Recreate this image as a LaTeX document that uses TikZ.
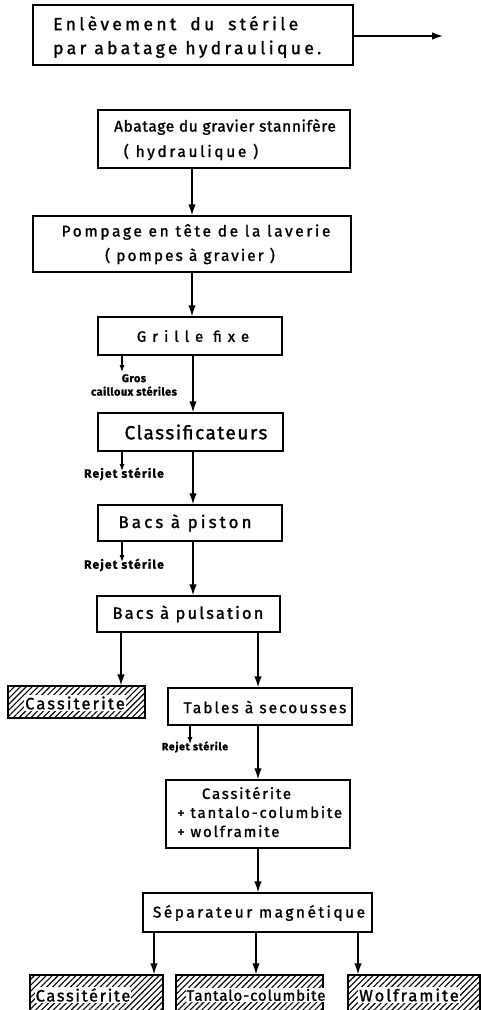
\documentclass[tikz,border=0pt]{standalone}
\usepackage{fontspec}
\setmainfont{Fira Sans}[FakeBold=1.3]
\usetikzlibrary{arrows.meta,patterns.meta}
\newcommand{\fs}[2]{\fontsize{#1}{#2}\selectfont}
\newcommand{\ls}[1]{\addfontfeature{LetterSpace=#1}}
\begin{document}
\begin{tikzpicture}[x=1pt,y=-1pt,
  box/.style={draw,line width=1.4pt,rectangle,inner sep=0pt},
  ore/.style={box,pattern={Lines[angle=45,distance=4.2pt,line width=1.1pt]}},
  txt/.style={inner sep=0pt},
  arr/.style={line width=1.4pt,-{Latex[length=11pt,width=7.5pt]}},
  sarr/.style={line width=1.1pt,-{Latex[length=7pt,width=5pt]}},
  lbl/.style={inner sep=0pt,align=center},
  oretxt/.style={fill=white,inner xsep=0.8pt,inner ysep=1.5pt}]

\useasboundingbox (0,0) rectangle (481,1010);

% boxes of the flow sheet
\node[box,minimum width=320pt,minimum height=60pt] (b1) at (193,35) {};
\node[txt,anchor=west,align=left,font=\fs{17.5}{24}\ls{19}] (t1) at (53,37)
  {Enlèvement\hspace{0.8em}du\hspace{0.8em}stérile\\par abatage hydraulique.};
\coordinate (out1) at (443,36);

\node[box,minimum width=252pt,minimum height=58pt] (b2) at (224,139) {};
\node[txt,font=\fs{15.5}{16}\ls{4}] (t2a) at (225,127) {Abatage du gravier stannifère};
\node[txt,font=\fs{15.5}{16}\ls{17}] (t2b) at (191,152) {( hydraulique )};

\node[box,minimum width=318pt,minimum height=56pt] (b3) at (192,244) {};
\node[txt,font=\fs{15.5}{16}\ls{17}] (t3a) at (196,232) {Pompage en tête de la laverie};
\node[txt,font=\fs{15.5}{16}\ls{13}] (t3b) at (190,256) {( pompes à gravier )};

\node[box,minimum width=184pt,minimum height=38pt] (b4) at (190,336) {};
\node[txt,font=\fs{15}{17}\ls{40}] (t4) at (193,336) {Grille fixe};
\node[box,minimum width=185pt,minimum height=38pt] (b5) at (190.5,432) {};
\node[txt,font=\fs{19}{20}\ls{8}] (t5) at (196,432) {Classificateurs};
\node[box,minimum width=184pt,minimum height=36pt] (b6) at (190,523) {};
\node[txt,font=\fs{17}{19}\ls{18}] (t6) at (185,523) {Bacs à piston};
\node[box,minimum width=183pt,minimum height=36pt] (b7) at (188.5,614) {};
\node[txt,font=\fs{16.5}{18}\ls{13}] (t7) at (188,614) {Bacs à pulsation};

\node[ore,minimum width=137pt,minimum height=32pt] (b8) at (76.5,702) {};
\node[oretxt,font=\fs{16.5}{17}\ls{13}] (t8) at (75,703) {Cassiterite};
\node[box,minimum width=184pt,minimum height=37pt] (b9) at (260,706.5) {};
\node[txt,font=\fs{15.5}{17}\ls{13}] (t9) at (265,707) {Tables à secousses};

\node[box,minimum width=184pt,minimum height=68pt] (b10) at (258,814) {};
\node[txt,anchor=west,align=left,font=\fs{15}{19}\ls{12}] (t10) at (177,812)
  {\hspace{1.65em}Cassitérite\\+ tantalo-columbite\\+ wolframite};

\node[box,minimum width=229pt,minimum height=39pt] (b11) at (257.5,912.5) {};
\node[txt,font=\fs{15.5}{17}\ls{16}] (t11) at (259,913) {Séparateur magnétique};

\node[ore,minimum width=133pt,minimum height=40pt] (b12) at (96.5,995) {};
\node[oretxt,font=\fs{16.5}{17}\ls{10}] (t12) at (83,995) {Cassitérite};
\node[ore,minimum width=147pt,minimum height=40pt] (b13) at (249.5,995) {};
\node[oretxt,font=\fs{15}{16}\ls{6}] (t13) at (256,995) {Tantalo-columbite};
\node[ore,minimum width=132pt,minimum height=40pt] (b14) at (414,995) {};
\node[oretxt,font=\fs{16.5}{17}\ls{12}] (t14) at (409,995) {Wolframite};

% side rejects
\node[lbl,font=\fs{11}{13.5}\bfseries\ls{4}] (g1) at (134,385) {Gros\\cailloux stériles};
\coordinate (r1) at (122,372);
\node[lbl,font=\fs{12}{12}\bfseries\ls{10}] (g2) at (124,474) {Rejet stérile};
\coordinate (r2) at (122,471);
\node[lbl,font=\fs{12}{12}\bfseries\ls{10}] (g3) at (124,565) {Rejet stérile};
\coordinate (r3) at (122,562);
\node[lbl,font=\fs{10.5}{12}\bfseries\ls{7}] (g4) at (195,747) {Rejet stérile};
\coordinate (r4) at (190,744);

% x positions of the main streams
\coordinate (xa) at (192,0);
\coordinate (xb) at (193,0);
\coordinate (xl) at (121,0);
\coordinate (xr) at (258,0);
\coordinate (xs1) at (154,0);
\coordinate (xs2) at (256,0);
\coordinate (xs3) at (358,0);

% connectors
\draw[arr] (b1.east |- out1) -- (out1);
\draw[arr] (b2.south -| xa) -- (b3.north -| xa);
\draw[arr] (b3.south -| xa) -- (b4.north -| xa);
\draw[arr] (b4.south -| xb) -- (b5.north -| xb);
\draw[arr] (b5.south -| xb) -- (b6.north -| xb);
\draw[arr] (b6.south -| xb) -- (b7.north -| xb);
\draw[arr] (b7.south -| xl) -- (b8.north -| xl);
\draw[arr] (b7.south -| xr) -- (b9.north -| xr);
\draw[arr] (b9.south -| xr) -- (b10.north -| xr);
\draw[arr] (b10.south -| xr) -- (b11.north -| xr);
\draw[arr] (b11.south -| xs1) -- (b12.north -| xs1);
\draw[arr] (b11.south -| xs2) -- (b13.north -| xs2);
\draw[arr] (b11.south -| xs3) -- (b14.north -| xs3);

\draw[sarr] (b4.south -| r1) -- (r1);
\draw[sarr] (b5.south -| r2) -- (r2);
\draw[sarr] (b6.south -| r3) -- (r3);
\draw[sarr] (b9.south -| r4) -- (r4);
\end{tikzpicture}
\end{document}
